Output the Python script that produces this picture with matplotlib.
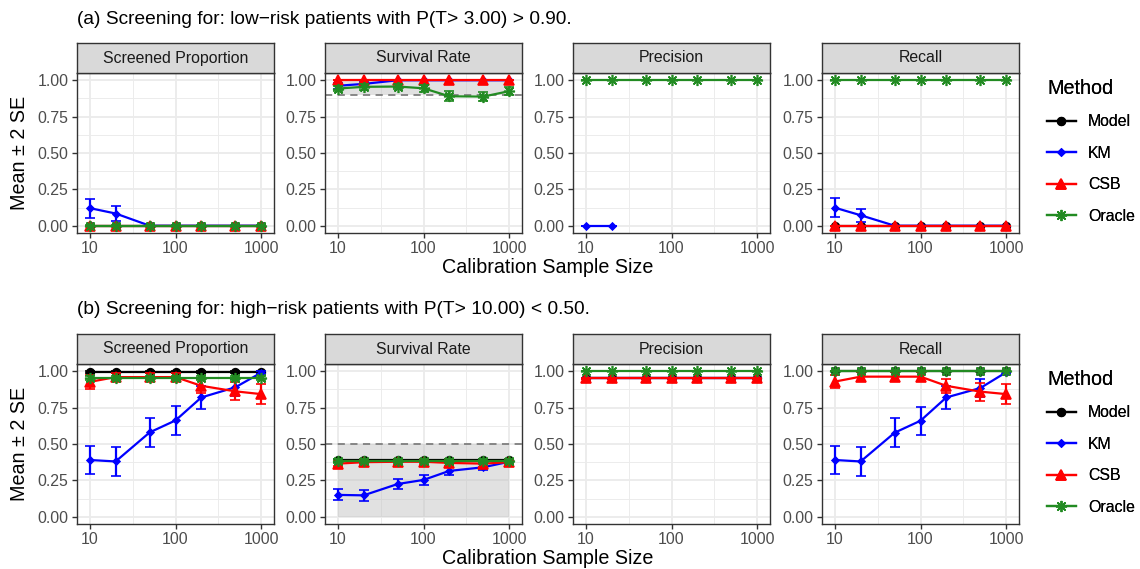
import numpy as np
import matplotlib
matplotlib.use("Agg")
import matplotlib.pyplot as plt
from matplotlib.lines import Line2D

plt.rcParams["font.family"] = ["Liberation Sans", "DejaVu Sans"]

nan = np.nan
sizes = [10, 20, 50, 100, 200, 500, 1000]
methods = ["Model", "KM", "CSB", "Oracle"]
metrics = ["Screened Proportion", "Survival Rate", "Precision", "Recall"]
titles = ["(a) Screening for: low\u2212risk patients with P(T> 3.00) > 0.90.",
          "(b) Screening for: high\u2212risk patients with P(T> 10.00) < 0.50."]

# reference band on the survival-rate panel: (low, high), dashed line at threshold
a_band = (0.9, 1.0)
a_threshold = 0.9
b_band = (0.0, 0.5)
b_threshold = 0.5

# ---- (a) low-risk: means and 2*SE ----
a_screen_model = [0, 0, 0, 0, 0, 0, 0]
a_screen_model_se2 = [0, 0, 0, 0, 0, 0, 0]
a_screen_km = [0.121, 0.084, 0, 0, 0, 0, 0]
a_screen_km_se2 = [0.066, 0.051, 0, 0, 0, 0, 0]
a_screen_csb = [0, 0, 0, 0, 0, 0, 0]
a_screen_csb_se2 = [0, 0, 0, 0, 0, 0, 0]
a_screen_oracle = [0, 0, 0, 0, 0, 0, 0]
a_screen_oracle_se2 = [0.004, 0.004, 0.004, 0.004, 0.004, 0.004, 0.004]

a_surv_model = [nan, nan, nan, nan, nan, nan, nan]
a_surv_model_se2 = [nan, nan, nan, nan, nan, nan, nan]
a_surv_km = [0.962, 0.975, 1.0, 1.0, 1.0, 1.0, 1.0]
a_surv_km_se2 = [0.02, 0.015, 0, 0, 0, 0, 0]
a_surv_csb = [1.0, 1.0, 1.0, 1.0, 1.0, 1.0, 1.0]
a_surv_csb_se2 = [0, 0, 0, 0, 0, 0, 0]
a_surv_oracle = [0.943, 0.955, 0.957, 0.945, 0.89, 0.888, 0.925]
a_surv_oracle_se2 = [0.02, 0.02, 0.02, 0.025, 0.033, 0.033, 0.028]

a_prec_model = [nan, nan, nan, nan, nan, nan, nan]
a_prec_model_se2 = [nan, nan, nan, nan, nan, nan, nan]
a_prec_km = [0, 0, nan, nan, nan, nan, nan]
a_prec_km_se2 = [0, 0, nan, nan, nan, nan, nan]
a_prec_csb = [nan, nan, nan, nan, nan, nan, nan]
a_prec_csb_se2 = [nan, nan, nan, nan, nan, nan, nan]
a_prec_oracle = [1.0, 1.0, 1.0, 1.0, 1.0, 1.0, 1.0]
a_prec_oracle_se2 = [0, 0, 0, 0, 0, 0, 0]

a_recall_model = [0, 0, 0, 0, 0, 0, 0]
a_recall_model_se2 = [0, 0, 0, 0, 0, 0, 0]
a_recall_km = [0.124, 0.072, 0, 0, 0, 0, 0]
a_recall_km_se2 = [0.064, 0.045, 0, 0, 0, 0, 0]
a_recall_csb = [0, 0, 0, 0, 0, 0, 0]
a_recall_csb_se2 = [0, 0, 0, 0, 0, 0, 0]
a_recall_oracle = [1.0, 1.0, 1.0, 1.0, 1.0, 1.0, 1.0]
a_recall_oracle_se2 = [0, 0, 0, 0, 0, 0, 0]

# ---- (b) high-risk: means and 2*SE ----
b_screen_model = [0.995, 0.995, 0.995, 0.995, 0.995, 0.995, 0.995]
b_screen_model_se2 = [0.004, 0.004, 0.004, 0.004, 0.004, 0.004, 0.004]
b_screen_km = [0.39, 0.38, 0.58, 0.662, 0.82, 0.89, 0.99]
b_screen_km_se2 = [0.097, 0.098, 0.1, 0.097, 0.078, 0.06, 0.01]
b_screen_csb = [0.927, 0.96, 0.96, 0.96, 0.90, 0.862, 0.843]
b_screen_csb_se2 = [0.046, 0.03, 0.03, 0.03, 0.05, 0.062, 0.067]
b_screen_oracle = [0.955, 0.955, 0.955, 0.955, 0.955, 0.955, 0.955]
b_screen_oracle_se2 = [0.015, 0.015, 0.015, 0.015, 0.015, 0.015, 0.015]

b_surv_model = [0.387, 0.387, 0.387, 0.387, 0.387, 0.387, 0.387]
b_surv_model_se2 = [0.01, 0.01, 0.01, 0.01, 0.01, 0.01, 0.01]
b_surv_km = [0.15, 0.147, 0.225, 0.253, 0.315, 0.34, 0.378]
b_surv_km_se2 = [0.038, 0.036, 0.034, 0.033, 0.025, 0.02, 0.012]
b_surv_csb = [0.365, 0.375, 0.378, 0.378, 0.37, 0.365, 0.375]
b_surv_csb_se2 = [0.015, 0.015, 0.02, 0.02, 0.02, 0.02, 0.015]
b_surv_oracle = [0.382, 0.382, 0.382, 0.382, 0.382, 0.382, 0.382]
b_surv_oracle_se2 = [0.012, 0.012, 0.015, 0.015, 0.012, 0.012, 0.012]

b_prec_model = [0.953, 0.953, 0.953, 0.953, 0.953, 0.953, 0.953]
b_prec_model_se2 = [0.004, 0.004, 0.004, 0.004, 0.004, 0.004, 0.004]
b_prec_km = [0.952, 0.952, 0.952, 0.952, 0.952, 0.952, 0.952]
b_prec_km_se2 = [0.004, 0.004, 0.004, 0.004, 0.004, 0.004, 0.004]
b_prec_csb = [0.953, 0.953, 0.953, 0.953, 0.953, 0.953, 0.953]
b_prec_csb_se2 = [0.004, 0.004, 0.004, 0.004, 0.004, 0.004, 0.004]
b_prec_oracle = [1.0, 1.0, 1.0, 1.0, 1.0, 1.0, 1.0]
b_prec_oracle_se2 = [0, 0, 0, 0, 0, 0, 0]

b_recall_model = [1.0, 1.0, 1.0, 1.0, 1.0, 1.0, 1.0]
b_recall_model_se2 = [0, 0, 0, 0, 0, 0, 0]
b_recall_km = [0.39, 0.38, 0.578, 0.66, 0.82, 0.885, 0.993]
b_recall_km_se2 = [0.097, 0.098, 0.1, 0.097, 0.078, 0.06, 0.01]
b_recall_csb = [0.929, 0.963, 0.963, 0.963, 0.90, 0.86, 0.843]
b_recall_csb_se2 = [0.046, 0.03, 0.03, 0.03, 0.05, 0.062, 0.067]
b_recall_oracle = [1.0, 1.0, 1.0, 1.0, 1.0, 1.0, 1.0]
b_recall_oracle_se2 = [0, 0, 0, 0, 0, 0, 0]

g = globals()
table = {}
for sc in ["a", "b"]:
    for key, metric in zip(["screen", "surv", "prec", "recall"], metrics):
        for m in methods:
            base = f"{sc}_{key}_{m.lower()}"
            table[(sc, metric, m)] = (np.array(g[base], float), np.array(g[base + "_se2"], float))

colors = {"Model": "black", "KM": "#0000FF", "CSB": "#FF0000", "Oracle": "#228B22"}
markers = {"Model": "o", "KM": "D", "CSB": "^", "Oracle": (8, 2, 0)}
msizes = {"Model": 5.5, "KM": 3.5, "CSB": 6.5, "Oracle": 8}

W, H = 1140, 569
fig = plt.figure(figsize=(W / 100, H / 100), dpi=100)

lefts = [77, 325, 573, 822]
pw = 197
rows = {"a": (73, 233), "b": (364, 524)}
strip_h = 30

tick_col = "#4D4D4D"
border = "#333333"

for sc in ["a", "b"]:
    top, bot = rows[sc]
    for j, metric in enumerate(metrics):
        ax = fig.add_axes([lefts[j] / W, 1 - bot / H, pw / W, (bot - top) / H])
        ax.set_xscale("log")
        ax.set_xlim(10 ** 0.85, 10 ** 3.15)
        ax.set_ylim(-0.05, 1.05)
        ax.set_xticks([10, 100, 1000])
        ax.set_xticklabels(["10", "100", "1000"])
        ax.set_xticks([10 ** 1.5, 10 ** 2.5], minor=True)
        ax.set_yticks([0, 0.25, 0.5, 0.75, 1.0])
        ax.set_yticklabels(["0.00", "0.25", "0.50", "0.75", "1.00"])
        ax.set_yticks([0.125, 0.375, 0.625, 0.875], minor=True)
        ax.tick_params(which="major", length=3.6, width=1.0, color=border,
                       labelsize=11.4, labelcolor=tick_col, pad=2.5)
        ax.tick_params(which="minor", length=0)
        ax.grid(which="major", color="#EBEBEB", lw=1.3)
        ax.grid(which="minor", color="#EBEBEB", lw=0.65)
        ax.set_axisbelow(True)
        for s in ax.spines.values():
            s.set_color(border)
            s.set_linewidth(1.0)

        if metric == "Survival Rate":
            band = a_band if sc == "a" else b_band
            thr = a_threshold if sc == "a" else b_threshold
            ax.fill_between([sizes[0], sizes[-1]], band[0], band[1],
                            color="#BEBEBE", alpha=0.45, lw=0, zorder=1)
            ax.axhline(thr, color="#7F7F7F", lw=1.3, ls=(0, (4, 3)), zorder=1.5)

        for k, m in enumerate(methods):
            y, e = table[(sc, metric, m)]
            ax.errorbar(sizes, y, yerr=e, color=colors[m], lw=1.6,
                        marker=markers[m], ms=msizes[m], mew=1.2,
                        elinewidth=1.6, capsize=3.3, capthick=1.6, zorder=3 + k)

        sax = fig.add_axes([lefts[j] / W, 1 - top / H, pw / W, strip_h / H])
        sax.set_facecolor("#D9D9D9")
        sax.set_xticks([])
        sax.set_yticks([])
        for s in sax.spines.values():
            s.set_color(border)
            s.set_linewidth(1.0)
        sax.text(0.5, 0.5, metric, ha="center", va="center", fontsize=11.4,
                 color="#1A1A1A", transform=sax.transAxes)

    fig.text(77 / W, 1 - (20 if sc == "a" else 310) / H, titles[0 if sc == "a" else 1],
             ha="left", va="center", fontsize=13.8)
    fig.text(20 / W, 1 - ((top + bot) / 2) / H, "Mean \u00b1 2 SE", rotation=90,
             ha="center", va="center", fontsize=14.2)
    fig.text(548 / W, 1 - (bot + 35) / H, "Calibration Sample Size",
             ha="center", va="center", fontsize=14.2)

    handles = [Line2D([], [], color=colors[m], lw=1.6, marker=markers[m],
                      ms=msizes[m], mew=1.2) for m in methods]
    leg = fig.legend(handles, methods, title="Method", loc="upper left",
                     bbox_to_anchor=(1047 / W, 1 - (top + 6) / H), frameon=False,
                     fontsize=11.4, title_fontsize=14.2, handlelength=1.8,
                     handletextpad=0.8, labelspacing=1.04, borderpad=0,
                     borderaxespad=0, alignment="left")
    fig.add_artist(leg)

fig.savefig("out.png", dpi=100)
